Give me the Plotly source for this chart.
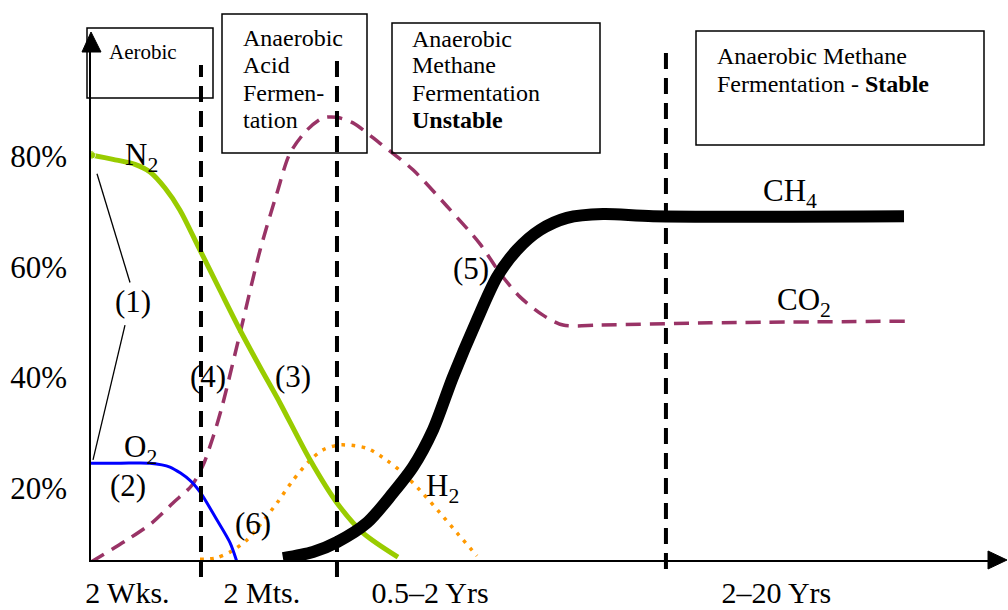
import plotly.graph_objects as go

# ---------------- data ----------------
# time axis in arbitrary units (0-100), gas share in percent
n2_t = [0, 2.42, 4.84, 6.49, 8.14, 9.79, 11.77, 14.19, 16.39, 18.59, 20.79, 24.09, 27.06, 29.92, 33.77]
n2_pct = [80.3, 79.5, 78.6, 77.2, 74.3, 70.3, 63.8, 55.8, 48.6, 41.9, 35.4, 25.1, 17.3, 11.9, 7.5]

o2_t = [0, 3.19, 6.49, 8.69, 10.89, 11.99, 13.86, 15.29, 16.06]
o2_pct = [24.5, 24.5, 24.5, 23.8, 21.4, 19.3, 14.2, 10.1, 6.6]

co2_t = [0, 3.96, 6.71, 9.02, 11.11, 12.32, 13.42, 14.41, 16.39, 18.59, 20.46, 21.89, 23.76,
         25.52, 27.06, 28.82, 31.79, 35.42, 39.16, 42.79, 44.99, 47.19, 49.72, 51.93, 55.99,
         68.1, 89.77]
co2_pct = [6.6, 10.6, 13.7, 17.3, 20.5, 24.1, 29.2, 34.7, 48.0, 63.0, 73.4, 80.6, 84.8,
           87.0, 87.1, 86.1, 82.4, 77.6, 71.0, 64.2, 58.9, 54.6, 51.3, 49.5, 49.5,
           49.9, 50.2]

ch4_t = [21.12, 24.42, 27.06, 30.36, 33.22, 35.42, 37.62, 39.82, 42.46, 44.66, 46.86, 49.39,
         52.37, 56.33, 61.83, 89.44]
ch4_pct = [7.3, 8.4, 10.2, 13.7, 19.1, 23.8, 30.5, 40.1, 50.4, 58.2, 63.1, 66.7,
           68.9, 69.6, 69.2, 69.2]

h2_t = [11.99, 13.64, 15.29, 17.16, 18.59, 20.46, 22.22, 24.09, 25.52, 27.39, 30.36, 32.56,
        34.32, 36.19, 38.39, 40.26, 42.46]
h2_pct = [7.1, 7.3, 8.4, 10.6, 13.3, 17.3, 21.4, 25.0, 26.9, 27.8, 27.2, 25.0,
          22.7, 19.6, 15.5, 11.9, 7.7]

# phase boundaries on the time axis
phase_bounds = [12.1, 27.06, 63.25]

# axis tick labels
y_tick_vals = [20, 40, 60, 80]
y_tick_text = ["20%", "40%", "60%", "80%"]
x_tick_vals = [4.0, 18.8, 37.3, 75.4]
x_tick_text = ["2 Wks.", "2 Mts.", "0.5\u20132 Yrs", "2\u201320 Yrs"]

SERIF = "Liberation Serif, Times New Roman, serif"

# ---------------- figure geometry ----------------
W, H = 1008, 610
ML, MR, MT, MB = 91, 8, 40, 50
PW, PH = W - ML - MR, H - MT - MB


def px_x(px):
    """figure pixel column -> paper x"""
    return (px - ML) / PW


def px_y(py):
    """figure pixel row -> paper y"""
    return (H - MB - py) / PH


fig = go.Figure()

fig.add_trace(go.Scatter(
    x=co2_t, y=co2_pct, mode="lines", name="CO2",
    line=dict(color="#993366", width=3.5, dash="15px,9px", shape="spline", smoothing=0.8)))
fig.add_trace(go.Scatter(
    x=h2_t, y=h2_pct, mode="lines", name="H2",
    line=dict(color="#FF9900", width=3.5, dash="3.5px,6.5px", shape="spline", smoothing=0.8)))
fig.add_trace(go.Scatter(
    x=n2_t, y=n2_pct, mode="lines+markers", name="N2",
    marker=dict(size=[9] + [0] * (len(n2_t) - 1), color="#99CC00"),
    line=dict(color="#99CC00", width=5, shape="spline", smoothing=0.8)))
fig.add_trace(go.Scatter(
    x=o2_t, y=o2_pct, mode="lines", name="O2",
    line=dict(color="#0000FF", width=3, shape="spline", smoothing=0.8)))
fig.add_trace(go.Scatter(
    x=ch4_t, y=ch4_pct, mode="lines", name="CH4",
    line=dict(color="#000000", width=12, shape="spline", smoothing=0.8)))

shapes = []
# dashed phase separators
sep_tops = [65, 57, 47]
sep_bottoms = [577, 577, 569]
for xb, top, bot in zip(phase_bounds, sep_tops, sep_bottoms):
    shapes.append(dict(type="line", xref="x", yref="paper", x0=xb, x1=xb,
                       y0=px_y(bot), y1=px_y(top),
                       line=dict(color="black", width=4, dash="16px,9px")))

# leader lines of marker (1)
shapes.append(dict(type="line", xref="x", yref="y", x0=0.66, y0=76.9, x1=4.29, y1=57.2,
                   line=dict(color="black", width=1.3)))
shapes.append(dict(type="line", xref="x", yref="y", x0=3.74, y0=49.5, x1=0.22, y1=25.1,
                   line=dict(color="black", width=1.3)))

# phase boxes (pixel rectangles)
boxes = [(87, 28, 213, 98), (222, 14, 367, 153), (392, 23, 600, 153), (696, 31, 984, 145)]
for x0, y0, x1, y1 in boxes:
    shapes.append(dict(type="rect", xref="paper", yref="paper",
                       x0=px_x(x0), x1=px_x(x1), y0=px_y(y1), y1=px_y(y0),
                       line=dict(color="black", width=1.5), fillcolor="rgba(0,0,0,0)"))

# axis arrow heads
shapes.append(dict(type="path", xref="paper", yref="paper",
                   path="M {} {} L {} {} L {} {} Z".format(px_x(82), px_y(52), px_x(101), px_y(52),
                                                          px_x(91), px_y(32)),
                   fillcolor="black", line=dict(color="black", width=1)))
shapes.append(dict(type="path", xref="paper", yref="paper",
                   path="M {} {} L {} {} L {} {} Z".format(px_x(988), px_y(551), px_x(988), px_y(569),
                                                          px_x(1007), px_y(560)),
                   fillcolor="black", line=dict(color="black", width=1)))

annotations = []
# box captions, one line each
box_lines = [
    (107, 52, "Aerobic", 21),
    (241, 38, "Anaerobic", 24),
    (241, 65, "Acid", 24),
    (241, 93, "Fermen-", 24),
    (241, 120, "tation", 24),
    (410, 39, "Anaerobic", 24),
    (410, 65, "Methane", 24),
    (410, 93, "Fermentation", 24),
    (410, 120, "<b>Unstable</b>", 24),
    (715, 56, "Anaerobic Methane", 24),
    (715, 84, "Fermentation - <b>Stable</b>", 24),
]
for bx, by, txt, fs in box_lines:
    annotations.append(dict(xref="paper", yref="paper", x=px_x(bx), y=px_y(by),
                            xanchor="left", yanchor="middle", text=txt, showarrow=False,
                            font=dict(family=SERIF, size=fs, color="black")))

# curve labels and numbered markers (data coordinates)
labels = [
    (5.6, 79.9, "N<sub>2</sub>"),
    (4.6, 53.8, "(1)"),
    (5.4, 27.1, "O<sub>2</sub>"),
    (4.1, 20.5, "(2)"),
    (12.9, 40.1, "(4)"),
    (22.2, 40.1, "(3)"),
    (17.8, 13.5, "(6)"),
    (38.7, 20.0, "H<sub>2</sub>"),
    (41.8, 59.8, "(5)"),
    (76.9, 73.4, "CH<sub>4</sub>"),
    (78.4, 53.7, "CO<sub>2</sub>"),
]
for lx, ly, txt in labels:
    annotations.append(dict(xref="x", yref="y", x=lx, y=ly, text=txt, showarrow=False,
                            xanchor="center", yanchor="middle",
                            font=dict(family=SERIF, size=31, color="black")))

fig.update_layout(
    width=W, height=H,
    margin=dict(l=ML, r=MR, t=MT, b=MB, pad=0, autoexpand=False),
    paper_bgcolor="white", plot_bgcolor="white",
    showlegend=False,
    shapes=shapes,
    annotations=annotations,
    xaxis=dict(range=[0, 100], showgrid=False, zeroline=False, showline=True,
               linecolor="black", linewidth=1.5, ticks="", automargin=False,
               tickvals=x_tick_vals, ticktext=x_tick_text, ticklabelstandoff=5,
               tickfont=dict(family=SERIF, size=30, color="black")),
    yaxis=dict(range=[6.97, 101.1], showgrid=False, zeroline=False, showline=True,
               linecolor="black", linewidth=1.5, ticks="", automargin=False,
               tickvals=y_tick_vals, ticktext=y_tick_text, ticklabelstandoff=16,
               tickfont=dict(family=SERIF, size=31, color="black")),
)

fig.write_html("out.html")
